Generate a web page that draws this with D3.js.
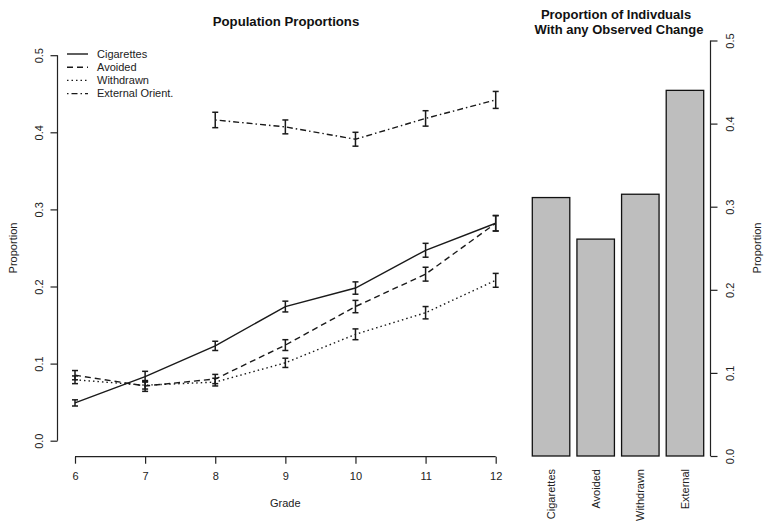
<!DOCTYPE html>
<html><head><meta charset="utf-8">
<script src="https://cdn.jsdelivr.net/npm/d3@7"></script>
<style>
body{margin:0;background:#fff;}
svg{display:block;font-family:"Liberation Sans",Arial,sans-serif;}
</style></head>
<body><svg id="c" width="771" height="530"></svg>
<script>
// ---- data ----
const grades = [6,7,8,9,10,11,12];
const seriesNames = ["Cigarettes","Avoided","Withdrawn","External Orient."];
const cigarettes = [0.049,0.083,0.123,0.174,0.198,0.247,0.282];
const avoided    = [0.085,0.071,0.080,0.124,0.174,0.216,0.282];
const withdrawn  = [0.079,0.072,0.076,0.101,0.138,0.166,0.208];
const externalGrades = [8,9,10,11,12];
const external   = [0.416,0.407,0.391,0.418,0.442];
const cigErr = [0.004,0.007,0.006,0.007,0.008,0.009,0.010];
const avoErr = [0.006,0.007,0.006,0.007,0.008,0.009,0.010];
const witErr = [0.005,0.005,0.005,0.006,0.007,0.008,0.009];
const extErr = [0.010,0.009,0.009,0.010,0.011];
const barCats = ["Cigarettes","Avoided","Withdrawn","External"];
const barVals = [0.311,0.261,0.315,0.440];
const yTicks = [0,0.1,0.2,0.3,0.4,0.5];

const svg = d3.select("#c");
const fmt = d3.format(".1f");

// ---- left panel ----
const x = d3.scaleLinear().domain([6,12]).range([75,495.7]);
const y = d3.scaleLinear().domain([0,0.5]).range([440.7,55.2]);

const series = [
  {name:seriesNames[0], xs:grades, v:cigarettes, e:cigErr, dash:null},
  {name:seriesNames[1], xs:grades, v:avoided, e:avoErr, dash:"6,4"},
  {name:seriesNames[2], xs:grades, v:withdrawn, e:witErr, dash:"1.5,3"},
  {name:seriesNames[3], xs:externalGrades, v:external, e:extErr, dash:"1.5,3,6,3"}
];

const line = d3.line().x(d=>x(d[0])).y(d=>y(d[1]));
series.forEach(s=>{
  const pts = s.xs.map((g,i)=>[g,s.v[i]]);
  svg.append("path").attr("d",line(pts)).attr("fill","none")
    .attr("stroke","#1a1a1a").attr("stroke-width",1.4)
    .attr("stroke-dasharray",s.dash);
  const eb = svg.append("g").attr("stroke","#1a1a1a").attr("stroke-width",1.5);
  s.xs.forEach((g,i)=>{
    const cx=x(g), y0=y(s.v[i]-s.e[i]), y1=y(s.v[i]+s.e[i]);
    eb.append("line").attr("x1",cx).attr("x2",cx).attr("y1",y0).attr("y2",y1);
    eb.append("line").attr("x1",cx-3).attr("x2",cx+3).attr("y1",y0).attr("y2",y0);
    eb.append("line").attr("x1",cx-3).attr("x2",cx+3).attr("y1",y1).attr("y2",y1);
  });
});

// left y axis
const gy = svg.append("g").attr("transform","translate(57.5,0)")
  .call(d3.axisLeft(y).tickValues(yTicks).tickFormat(fmt).tickSize(7).tickPadding(0));
gy.select(".domain").attr("stroke","#222").attr("stroke-width",1.2).attr("d",`M0,${y(0)}V${y(0.5)}`);
gy.selectAll(".tick line").attr("stroke","#222").attr("stroke-width",1.2);
gy.selectAll(".tick text").attr("x",null).attr("dy",null)
  .attr("text-anchor","middle").attr("transform","translate(-18,0) rotate(-90)")
  .attr("dy","0.35em").attr("font-size",11).attr("fill","#222")
  .attr("font-family","Liberation Sans, Arial, sans-serif");

// left x axis
const gx = svg.append("g").attr("transform","translate(0,456.7)")
  .call(d3.axisBottom(x).tickValues(grades).tickFormat(d3.format("d")).tickSize(7).tickPadding(9));
gx.select(".domain").attr("stroke","#222").attr("stroke-width",1.2).attr("d",`M${x(6)},0H${x(12)}`);
gx.selectAll(".tick line").attr("stroke","#222").attr("stroke-width",1.2);
gx.selectAll(".tick text").attr("font-size",11).attr("fill","#222")
  .attr("font-family","Liberation Sans, Arial, sans-serif");

svg.append("text").attr("x",285.3).attr("y",507).attr("text-anchor","middle")
  .attr("font-size",11).attr("fill","#222").text("Grade");
svg.append("text").attr("transform","translate(17,248) rotate(-90)").attr("text-anchor","middle")
  .attr("font-size",11).attr("fill","#222").text("Proportion");
svg.append("text").attr("x",286).attr("y",26).attr("text-anchor","middle")
  .attr("font-size",13.2).attr("font-weight","bold").attr("fill","#111").text("Population Proportions");

// legend
const lg = svg.append("g");
series.forEach((s,i)=>{
  const ly = 54 + i*13.2;
  lg.append("line").attr("x1",67).attr("x2",88).attr("y1",ly).attr("y2",ly)
    .attr("stroke","#1a1a1a").attr("stroke-width",1.4).attr("stroke-dasharray",s.dash);
  lg.append("text").attr("x",97).attr("y",ly).attr("dy","0.35em").attr("font-size",11)
    .attr("fill","#222").text(s.name);
});

// ---- right panel ----
const xb = d3.scaleBand().domain(barCats).range([532.3,703.7]).paddingInner(0.16).paddingOuter(0);
const yb = d3.scaleLinear().domain([0,0.5]).range([456,40.5]);

svg.append("g").selectAll("rect").data(barVals).join("rect")
  .attr("x",(d,i)=>xb(barCats[i])).attr("width",xb.bandwidth())
  .attr("y",d=>yb(d)).attr("height",d=>yb(0)-yb(d))
  .attr("fill","#bebebe").attr("stroke","#111").attr("stroke-width",1.3);

svg.append("g").selectAll("text").data(barCats).join("text")
  .attr("transform",d=>`translate(${xb(d)+xb.bandwidth()/2},469) rotate(-90)`)
  .attr("text-anchor","end").attr("dy","0.35em").attr("font-size",11).attr("fill","#222")
  .text(d=>d);

const gr = svg.append("g").attr("transform","translate(710.5,0)")
  .call(d3.axisRight(yb).tickValues(yTicks).tickFormat(fmt).tickSize(7).tickPadding(0));
gr.select(".domain").attr("stroke","#222").attr("stroke-width",1.2).attr("d",`M0,${yb(0)}V${yb(0.5)}`);
gr.selectAll(".tick line").attr("stroke","#222").attr("stroke-width",1.2);
gr.selectAll(".tick text").attr("x",null).attr("dy",null)
  .attr("text-anchor","middle").attr("transform","translate(20,0) rotate(-90)")
  .attr("dy","0.35em").attr("font-size",11).attr("fill","#222")
  .attr("font-family","Liberation Sans, Arial, sans-serif");

svg.append("text").attr("transform","translate(757,248) rotate(-90)").attr("text-anchor","middle")
  .attr("dy","0.35em").attr("font-size",11).attr("fill","#222").text("Proportion");

const rt = svg.append("text").attr("text-anchor","middle").attr("font-size",13)
  .attr("font-weight","bold").attr("fill","#111");
rt.append("tspan").attr("x",616).attr("y",18.5).text("Proportion of Indivduals");
rt.append("tspan").attr("x",619).attr("y",33.5).text("With any Observed Change");
</script></body></html>
